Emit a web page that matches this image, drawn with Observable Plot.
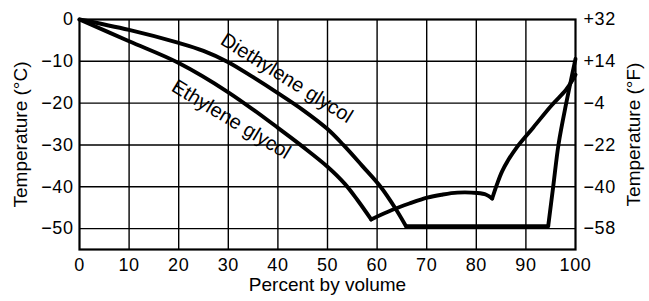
<!DOCTYPE html>
<html>
<head>
<meta charset="utf-8">
<script src="https://cdn.jsdelivr.net/npm/d3@7"></script>
<script src="https://cdn.jsdelivr.net/npm/@observablehq/plot@0.6"></script>
<style>
  html, body { margin: 0; padding: 0; background: white; }
</style>
</head>
<body>
<div id="chart"></div>
<script>
// ---- Data ----
const xTicks = [0, 10, 20, 30, 40, 50, 60, 70, 80, 90, 100];
const yTicksC = [0, -10, -20, -30, -40, -50];
const yTicksF = ["+32", "+14", "\u22124", "\u221222", "\u221240", "\u221258"];

// Diethylene glycol: freezing curve, flat plateau, steep rise
const dieCurveX = [0, 10, 20, 25, 30, 35, 40, 45, 50, 53.2, 57, 60.7, 63.7, 65.8];
const dieCurveY = [0, -2.5, -5.6, -7.5, -10.2, -13.8, -17.6, -21.6, -26.2, -30, -35, -40, -45.2, -49.4];
const diePlateauX = [65.8, 94.5];
const diePlateauY = [-49.4, -49.4];
const dieRiseX = [94.5, 95.5, 96.6, 98.1, 100];
const dieRiseY = [-49.4, -40, -29.7, -20.2, -9.4];

// Ethylene glycol: freezing curve, eutectic arc, rise to pure glycol
const ethCurveX = [0, 10, 20, 30, 40, 45, 50, 53.5, 56, 58.8];
const ethCurveY = [0, -5.2, -10.4, -17.4, -25.9, -30.4, -35.2, -39.3, -43.1, -47.8];
const ethArcX = [58.8, 63.1, 66.5, 70.1, 73, 76.2, 80.2, 82, 83.2];
const ethArcY = [-47.8, -45.5, -44, -42.6, -41.9, -41.4, -41.5, -41.9, -42.8];
const ethRiseX = [83.2, 84.2, 85.2, 86.5, 88.2, 91.5, 95.2, 98.1, 99.5, 100];
const ethRiseY = [-42.8, -39.3, -36.3, -33.5, -30.5, -25.8, -20.5, -16.8, -14.3, -13.2];

const labelNames = ["Diethylene glycol", "Ethylene glycol"];
const labelX = [41.8, 30.6];
const labelY = [-14.0, -23.9];
const labelAngle = [32, 31];

// ---- Build tables ----
const seg = (part, xs, ys) => xs.map((x, i) => ({part, x, y: ys[i]}));
const curved = [
  ...seg("dieCurve", dieCurveX, dieCurveY),
  ...seg("ethCurve", ethCurveX, ethCurveY),
  ...seg("ethArc", ethArcX, ethArcY),
  ...seg("ethRise", ethRiseX, ethRiseY),
  ...seg("dieRise", dieRiseX, dieRiseY)
];
const straight = seg("diePlateau", diePlateauX, diePlateauY);
const labels = labelNames.map((name, i) => ({name, x: labelX[i], y: labelY[i], a: labelAngle[i]}));

const font = "'Liberation Sans', Arial, Helvetica, sans-serif";

const chart = Plot.plot({
  width: 649,
  height: 301,
  marginLeft: 79,
  marginRight: 74,
  marginTop: 19,
  marginBottom: 52,
  x: {domain: [0, 100], label: null, axis: null},
  y: {domain: [-55, 0], label: null, axis: null},
  style: {fontFamily: font, fontSize: "18px", color: "black", background: "white", overflow: "visible"},
  marks: [
    Plot.gridX(xTicks.slice(1, -1), {stroke: "black", strokeOpacity: 1, strokeWidth: 1.4}),
    Plot.gridY(yTicksC.slice(1), {stroke: "black", strokeOpacity: 1, strokeWidth: 1.4}),
    Plot.axisX(xTicks, {tickSize: 0, tickPadding: 9, label: null, fontSize: 18}),
    Plot.axisY(yTicksC, {anchor: "left", tickSize: 0, tickPadding: 6, label: null, fontSize: 18,
      tickFormat: d => d === 0 ? "0" : "\u2212" + Math.abs(d)}),
    Plot.axisY(yTicksC, {anchor: "right", tickSize: 0, tickPadding: 8, label: null, fontSize: 18,
      tickFormat: d => yTicksF[yTicksC.indexOf(d)]}),
    Plot.frame({stroke: "black", strokeWidth: 2.2}),
    Plot.line(curved, {x: "x", y: "y", z: "part", curve: "catmull-rom", stroke: "black", strokeWidth: 3.9, strokeLinejoin: "round", strokeLinecap: "round"}),
    Plot.line(straight, {x: "x", y: "y", stroke: "black", strokeWidth: 3.9, strokeLinecap: "round"}),
    Plot.text(labels, {x: "x", y: "y", text: "name", rotate: d => d.a, fontSize: 20, fill: "black", textAnchor: "middle", ariaLabel: "curve labels"}),
    Plot.text(["Temperature (\u00b0C)"], {text: d => d, frameAnchor: "left", dx: -59, rotate: -90, textAnchor: "middle", fontSize: 19, fill: "black", ariaLabel: "ylabelC"}),
    Plot.text(["Temperature (\u00b0F)"], {text: d => d, frameAnchor: "right", dx: 58, rotate: -90, textAnchor: "middle", fontSize: 19, fill: "black", ariaLabel: "ylabelF"}),
    Plot.text(["Percent by volume"], {text: d => d, frameAnchor: "bottom", dy: 41, textAnchor: "middle", fontSize: 19, fill: "black", ariaLabel: "xlabel"})
  ]
});

const sel = d3.select(chart);
sel.selectAll('g[aria-label="ylabelC"] text, g[aria-label="ylabelF"] text').attr("letter-spacing", "1.4px");
sel.selectAll('g[aria-label="xlabel"] text').attr("letter-spacing", "0.4px");
sel.selectAll('g[aria-label="x-axis tick label"] text, g[aria-label="y-axis tick label"] text').attr("letter-spacing", "0.6px");

document.getElementById("chart").appendChild(chart);
</script>
</body>
</html>
